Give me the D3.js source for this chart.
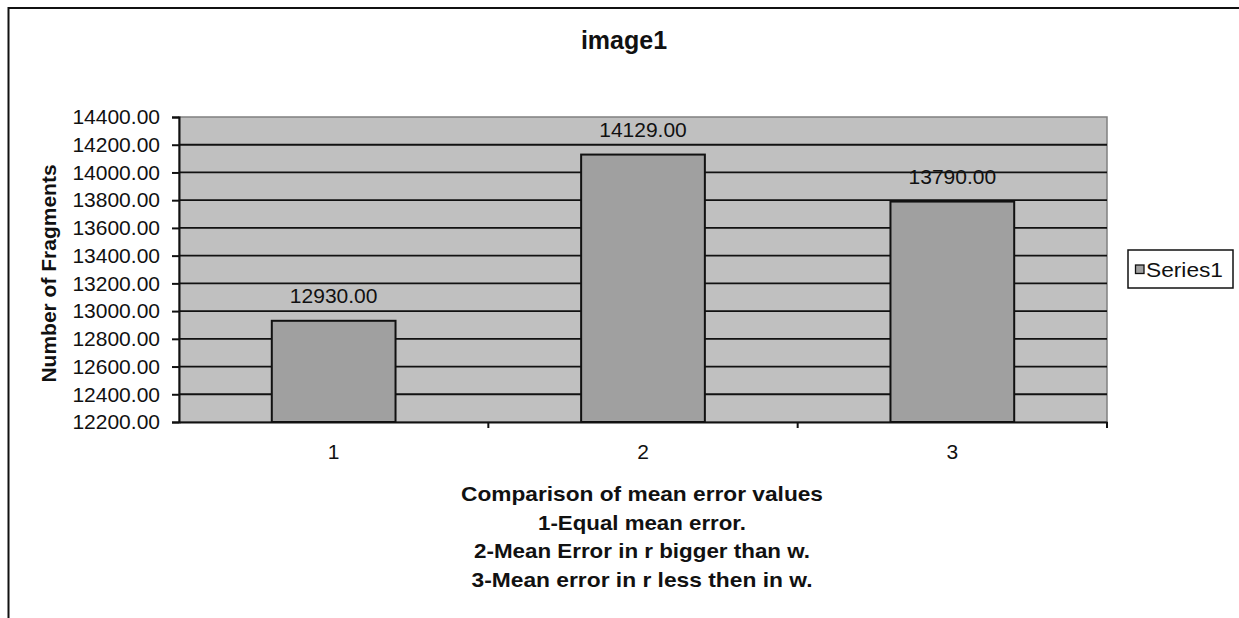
<!DOCTYPE html>
<html>
<head>
<meta charset="utf-8">
<script src="https://cdn.jsdelivr.net/npm/d3@7"></script>
<style>
  html, body { margin: 0; padding: 0; background: #fff; }
  svg { display: block; font-family: "Liberation Sans", Arial, sans-serif; }
</style>
</head>
<body>
<svg id="chart" width="1239" height="618"></svg>
<script>
// Chart data
const categories = ["1", "2", "3"];
const values = [12930, 14129, 13790];
const valueLabels = ["12930.00", "14129.00", "13790.00"];
const yTicks = [12200, 12400, 12600, 12800, 13000, 13200, 13400, 13600, 13800, 14000, 14200, 14400];
const seriesName = "Series1";
const chartTitle = "image1";
const yTitle = "Number of Fragments";
const xTitleLines = [
  "Comparison of mean error values",
  "1-Equal mean error.",
  "2-Mean Error in r bigger than w.",
  "3-Mean error in r less then in w."
];

const svg = d3.select("#chart");
const plot = { left: 179, right: 1107, top: 117, bottom: 422 };

// Outer chart frame (continues past the right and bottom edges)
svg.append("path")
  .attr("d", "M8.5,640 L8.5,8 L1260,8")
  .attr("fill", "none").attr("stroke", "#111").attr("stroke-width", 2);

const y = d3.scaleLinear().domain([12200, 14400]).range([plot.bottom, plot.top]);
const xCat = d3.scaleBand().domain(categories).range([plot.left, plot.right]).padding(0);
const xBar = d3.scaleBand().domain(categories).range([plot.left, plot.right])
  .paddingInner(0.6).paddingOuter(0.3);

// Plot background
svg.append("rect")
  .attr("x", plot.left).attr("y", plot.top)
  .attr("width", plot.right - plot.left).attr("height", plot.bottom - plot.top)
  .attr("fill", "#c0c0c0").attr("stroke", "#808080").attr("stroke-width", 1.5);

// Horizontal gridlines
svg.append("g").selectAll("line")
  .data(yTicks.slice(1, -1))
  .join("line")
  .attr("x1", plot.left).attr("x2", plot.right)
  .attr("y1", d => y(d)).attr("y2", d => y(d))
  .attr("stroke", "#111").attr("stroke-width", 1.8);

// Bars
svg.append("g").selectAll("rect")
  .data(values)
  .join("rect")
  .attr("x", (d, i) => xBar(categories[i]))
  .attr("y", d => y(d))
  .attr("width", xBar.bandwidth())
  .attr("height", d => plot.bottom - y(d))
  .attr("fill", "#a0a0a0").attr("stroke", "#111").attr("stroke-width", 2);

// Value labels
svg.append("g").selectAll("text")
  .data(values)
  .join("text")
  .attr("x", (d, i) => xBar(categories[i]) + xBar.bandwidth() / 2)
  .attr("y", d => y(d) - 18)
  .attr("text-anchor", "middle")
  .attr("font-size", 21).attr("fill", "#111")
  .text((d, i) => valueLabels[i]);

// Y axis
const yAxis = svg.append("g")
  .attr("transform", `translate(${plot.left},0)`)
  .call(d3.axisLeft(y).tickValues(yTicks).tickSize(7).tickPadding(12)
    .tickFormat(d => d3.format(".2f")(d)));
yAxis.select(".domain").attr("stroke", "#111").attr("stroke-width", 2);
yAxis.selectAll(".tick line").attr("stroke", "#111").attr("stroke-width", 2);
yAxis.selectAll(".tick text").attr("font-size", 21).attr("fill", "#111")
  .attr("font-family", "Liberation Sans, Arial, sans-serif");

// X axis: labels centred in each category, ticks on category boundaries
const xAxis = svg.append("g")
  .attr("transform", `translate(0,${plot.bottom})`)
  .call(d3.axisBottom(xCat).tickSize(0).tickPadding(22).tickSizeOuter(0));
xAxis.select(".domain").attr("stroke", "#111").attr("stroke-width", 2);
xAxis.selectAll(".tick text").attr("font-size", 21).attr("fill", "#111")
  .attr("font-family", "Liberation Sans, Arial, sans-serif");
xAxis.selectAll(".boundary")
  .data(categories.slice(1).concat(["end"]))
  .join("line")
  .attr("class", "boundary")
  .attr("x1", d => d === "end" ? plot.right : xCat(d))
  .attr("x2", d => d === "end" ? plot.right : xCat(d))
  .attr("y1", 0).attr("y2", 6)
  .attr("stroke", "#111").attr("stroke-width", 2);

// Title
svg.append("text")
  .attr("x", 624).attr("y", 49)
  .attr("text-anchor", "middle")
  .attr("font-size", 25).attr("font-weight", "bold").attr("fill", "#111")
  .text(chartTitle);

// Y axis title
svg.append("text")
  .attr("transform", `translate(56,${(plot.top + plot.bottom) / 2 + 4}) rotate(-90)`)
  .attr("text-anchor", "middle")
  .attr("font-size", 21).attr("font-weight", "bold").attr("fill", "#111")
  .text(yTitle);

// X axis title (multi-line)
const xTitleWidths = [362, 208, 336, 341];
svg.append("g").selectAll("text")
  .data(xTitleLines)
  .join("text")
  .attr("x", (plot.left + plot.right) / 2 - 1)
  .attr("y", (d, i) => 501 + i * 28.7)
  .attr("text-anchor", "middle")
  .attr("font-size", 21).attr("font-weight", "bold").attr("fill", "#111")
  .attr("textLength", (d, i) => xTitleWidths[i])
  .attr("lengthAdjust", "spacingAndGlyphs")
  .text(d => d);

// Legend
const legend = svg.append("g");
legend.append("rect")
  .attr("x", 1128).attr("y", 250).attr("width", 105).attr("height", 38)
  .attr("fill", "#fff").attr("stroke", "#111").attr("stroke-width", 1.5);
legend.append("rect")
  .attr("x", 1135.5).attr("y", 265).attr("width", 8.5).attr("height", 8.5)
  .attr("fill", "#a0a0a0").attr("stroke", "#111").attr("stroke-width", 1.3);
legend.append("text")
  .attr("x", 1146).attr("y", 277)
  .attr("font-size", 21).attr("fill", "#111")
  .attr("textLength", 77).attr("lengthAdjust", "spacingAndGlyphs")
  .text(seriesName);
</script>
</body>
</html>
